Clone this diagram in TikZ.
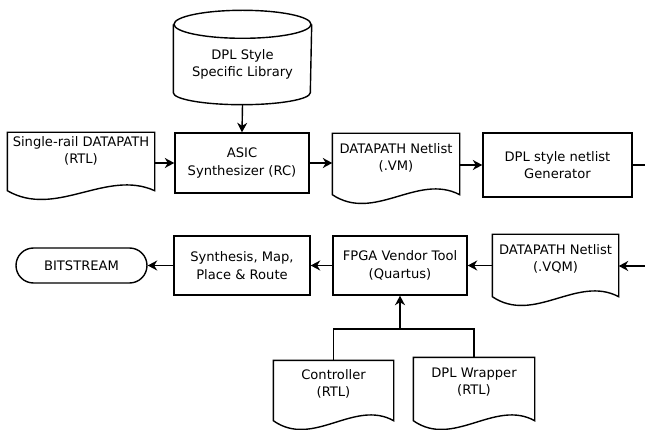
\documentclass[tikz,border=0pt]{standalone}
\usepackage{fontspec}
\setmainfont{DejaVu Sans}
\usetikzlibrary{arrows.meta,calc}

% document outline: #1 node, #2 how far the wavy edge lies below the node
\newcommand{\docout}[2]{%
  \draw (#1.north west) -- (#1.north east) -- ($(#1.south east)+(0,#2)$)
    .. controls ($(#1.south east)!0.33!(#1.south west)+(0,#2-22)$)
    and ($(#1.south east)!0.67!(#1.south west)+(0,#2+28)$)
    .. ($(#1.south west)+(0,#2)$) -- cycle;}

\tikzset{
  flow/.style={align=center,inner sep=2pt,font=\fontsize{13.1}{17.5}\selectfont},
  box/.style={flow,draw,rectangle},
  doc/.style={flow,rectangle},
  term/.style={flow,draw,rectangle,rounded corners=17.5pt},
  arr/.style={-{Stealth[length=9.5pt,width=10pt,inset=3pt]}}
}

\begin{document}
\begin{tikzpicture}[x=1pt,y=-1pt,line width=1.4pt]
   \useasboundingbox (0,0) rectangle (645,430);
   % top row
   \node[flow,minimum width=137,minimum height=79] (lib) at (242.5,64.5) {DPL Style\\Specific Library};
   \draw (lib.north west) -- ($(lib.south west)+(0,-12)$)
     arc[start angle=180,end angle=0,x radius=68.5,y radius=12] -- (lib.north east);
   \draw (lib.north) ellipse[x radius=68.5,y radius=14];
   \node[doc,minimum width=146,minimum height=36] (rtl) at (81,151) {Single-rail DATAPATH\\(RTL)};
   \docout{rtl}{21}
   \node[box,minimum width=134,minimum height=60] (asic) at (242,163) {ASIC\\Synthesizer (RC)};
   \node[doc,minimum width=126,minimum height=48] (vm) at (396,158) {DATAPATH Netlist\\(.VM)};
   \docout{vm}{12}
   \node[box,minimum width=149,minimum height=64] (gen) at (557.5,165) {DPL style netlist\\Generator};
   \coordinate (gout) at (645,165);
   % bottom row
   \node[term,minimum width=131,minimum height=35] (bit) at (81.5,265.5) {BITSTREAM};
   \node[box,minimum width=136,minimum height=59] (syn) at (242,265.5) {Synthesis, Map,\\Place \& Route};
   \node[box,minimum width=134,minimum height=59] (fpga) at (400,265.5) {FPGA Vendor Tool\\(Quartus)};
   \node[doc,minimum width=125,minimum height=48] (vqm) at (555.5,259) {DATAPATH Netlist\\(.VQM)};
   \docout{vqm}{13}
   \coordinate (gin) at (645,266);
   \node[doc,minimum width=119,minimum height=46] (ctrl) at (333.5,384) {Controller\\(RTL)};
   \docout{ctrl}{13}
   \node[doc,minimum width=120,minimum height=48] (wrap) at (474,382) {DPL Wrapper\\(RTL)};
   \docout{wrap}{14}
   \coordinate (jn) at (400,329);
   % connectors
   \draw[arr] (lib.south) -- (asic.north);
   \draw[arr] (rtl.east |- asic) -- (asic);
   \draw[arr] (asic) -- (vm.west |- asic);
   \draw[arr] (vm.east |- gen) -- (gen);
   \draw (gen) -- (gout);
   \draw[arr] (gin) -- (vqm.east |- gin);
   \draw[arr] (vqm.west |- fpga) -- (fpga);
   \draw[arr] (fpga) -- (syn);
   \draw[arr] (syn) -- (bit);
   \draw[arr] (jn) -- (fpga);
   \draw (ctrl.north) |- (jn) -| (wrap.north);
\end{tikzpicture}
\end{document}
